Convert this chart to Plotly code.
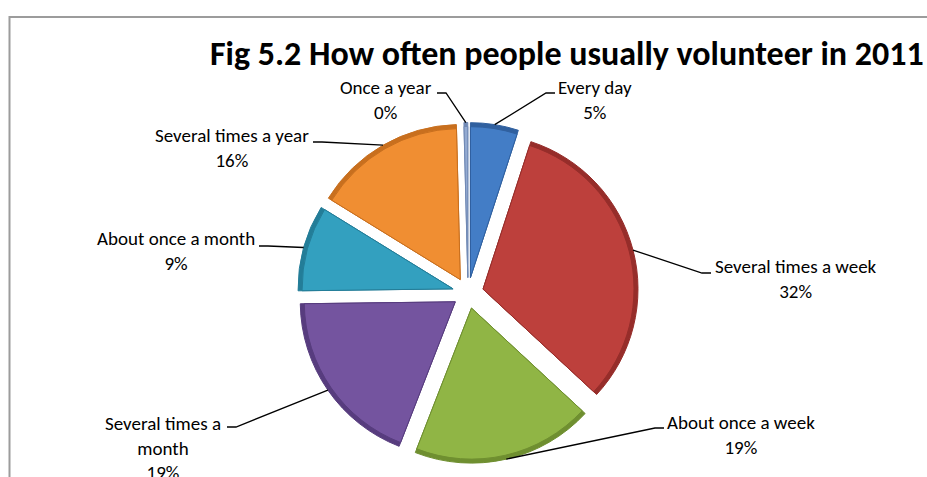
import math
import textwrap
import plotly.graph_objects as go

# ---- data -------------------------------------------------------------
categories = [
    "Every day",
    "Several times a week",
    "About once a week",
    "Several times a month",
    "About once a month",
    "Several times a year",
    "Once a year",
]
shares = [5.0, 31.9, 19.0, 18.9, 9.0, 15.8, 0.4]

title_text = "Fig 5.2 How often people usually volunteer in 2011"

# ---- styling ----------------------------------------------------------
W, H = 927, 477
FONT = "Carlito, Lato, 'Open Sans', sans-serif"

slice_colors = ["#437DC6", "#BD403C", "#90B545", "#74549F", "#33A0BF", "#F08E32", "#93AAD1"]
rim_colors = ["#30609F", "#962D2A", "#6F8F30", "#573C7E", "#237D98", "#C86F1E", "#7089B4"]

# pie geometry in pixels
CX, CY = 468, 293       # pie centre
R = 155                 # pie radius
PULL = 0.1              # explode fraction of the radius
RIM = 4                 # darker outer rim width

# label block centre (cx, cy), leader attach point (hx, hy),
# direction of the short horizontal stub (+1 right, -1 left), wrap width
label_layout = {
    "Every day":             dict(cx=595, cy=100, hx=555, hy=93,  d=-1, wrap=30),
    "Several times a week":  dict(cx=796, cy=279, hx=711, hy=273, d=-1, wrap=30),
    "About once a week":     dict(cx=741, cy=435, hx=664, hy=428, d=-1, wrap=30),
    "Several times a month": dict(cx=163, cy=448, hx=227, hy=427, d=1,  wrap=15),
    "About once a month":    dict(cx=176, cy=251, hx=259, hy=246, d=1,  wrap=30),
    "Several times a year":  dict(cx=232, cy=148, hx=313, hy=142, d=1,  wrap=30),
    "Once a year":           dict(cx=386, cy=100, hx=437, hy=93,  d=1,  wrap=30),
}


def px(x):
    return x / W


def py(y):
    return 1 - y / H


def pie_domain(radius, pull):
    # plotly sizes a pie as min(domain w, h) / (2 + 2 * max pull)
    d = radius * (2 + 2 * pull)
    return dict(x=[px(CX - d / 2), px(CX + d / 2)], y=[py(CY + d / 2), py(CY - d / 2)])


offset_px = PULL * R
inner_r = R - RIM
inner_pull = offset_px / inner_r

fig = go.Figure()
# outer pie: darker tone that shows as a rim
fig.add_trace(go.Pie(
    labels=categories, values=shares, sort=False, direction="clockwise", rotation=0,
    pull=[PULL] * len(shares),
    marker=dict(colors=rim_colors, line=dict(color=rim_colors, width=1)),
    textinfo="none", hoverinfo="skip",
    domain=pie_domain(R, PULL), showlegend=False,
))
# inner pie: main slice colours
fig.add_trace(go.Pie(
    labels=categories, values=shares, sort=False, direction="clockwise", rotation=0,
    pull=[inner_pull] * len(shares),
    marker=dict(colors=slice_colors, line=dict(color=rim_colors, width=1)),
    textinfo="none", hoverinfo="label+percent",
    domain=pie_domain(inner_r, inner_pull), showlegend=False,
))

# ---- data labels with leader lines --------------------------------------
total = sum(shares)
shapes = []
annotations = []
cum = 0.0
for name, v in zip(categories, shares):
    mid = (cum + v / 2) / total * 2 * math.pi   # clockwise from 12 o'clock
    cum += v
    ux, uy = math.sin(mid), -math.cos(mid)
    ax = CX + ux * (offset_px + R)
    ay = CY + uy * (offset_px + R)

    L = label_layout[name]
    ex = L["hx"] + L["d"] * 9
    path = f"M {px(L['hx'])},{py(L['hy'])} L {px(ex)},{py(L['hy'])} L {px(ax)},{py(ay)}"
    shapes.append(dict(type="path", path=path, xref="paper", yref="paper",
                       line=dict(color="black", width=1.3)))

    pct = round(v / total * 100)
    txt = "<br>".join(textwrap.wrap(name, L["wrap"])) + f"<br>{pct}%"
    annotations.append(dict(
        text=txt, x=px(L["cx"]), y=py(L["cy"]), xref="paper", yref="paper",
        xanchor="center", yanchor="middle", showarrow=False, align="center",
        font=dict(family=FONT, size=19, color="black"),
    ))

# chart title
annotations.append(dict(
    text=f"<b>{title_text}</b>", x=px(926), y=py(54), xref="paper", yref="paper",
    xanchor="right", yanchor="middle", showarrow=False,
    font=dict(family=FONT, size=34, color="black"),
))

# chart area frame
shapes.append(dict(type="rect", xref="paper", yref="paper",
                   x0=px(9.5), x1=1.05, y0=-0.05, y1=py(17),
                   line=dict(color="#9C9C9C", width=2), fillcolor="rgba(0,0,0,0)"))

fig.update_layout(
    width=W, height=H,
    margin=dict(l=0, r=0, t=0, b=0),
    paper_bgcolor="white",
    plot_bgcolor="white",
    shapes=shapes,
    annotations=annotations,
)

fig.write_html("out.html")
